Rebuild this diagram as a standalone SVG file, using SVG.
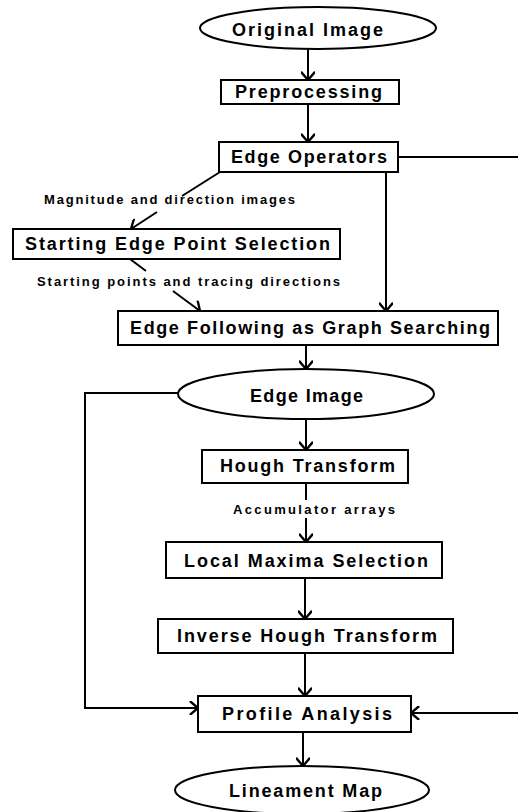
<svg xmlns="http://www.w3.org/2000/svg" width="518" height="812" viewBox="0 0 518 812">
<style>
.n{fill:#fff;stroke:#000;stroke-width:2}
.t{font-family:"Liberation Sans",Arial,sans-serif;font-weight:bold;font-size:18px;fill:#000}
.l{font-family:"Liberation Sans",Arial,sans-serif;font-weight:bold;font-size:13px;fill:#000}
.c{fill:none;stroke:#000;stroke-width:2}
</style>
<defs>
<marker id="a" markerUnits="userSpaceOnUse" markerWidth="14" markerHeight="14" refX="9" refY="6" orient="auto" viewBox="0 0 12 12">
<path d="M2,0 L9,6 L2,12" fill="none" stroke="#000" stroke-width="2"/>
</marker>
</defs>
<rect width="518" height="812" fill="#fff"/>
<g id="connectors">
<line class="c" x1="308" y1="49" x2="308" y2="80" marker-end="url(#a)"/>
<line class="c" x1="308" y1="104" x2="308" y2="142" marker-end="url(#a)"/>
<line class="c" x1="398" y1="157" x2="518" y2="157"/>
<line class="c" x1="386" y1="172" x2="386" y2="311" marker-end="url(#a)"/>
<line class="c" x1="220" y1="172" x2="182" y2="196"/>
<line class="c" x1="157" y1="212" x2="131" y2="229" marker-end="url(#a)"/>
<line class="c" x1="130" y1="259" x2="146" y2="271"/>
<line class="c" x1="173" y1="291" x2="200" y2="311" marker-end="url(#a)"/>
<line class="c" x1="306" y1="345" x2="306" y2="369" marker-end="url(#a)"/>
<line class="c" x1="306" y1="419" x2="306" y2="450" marker-end="url(#a)"/>
<line class="c" x1="306" y1="483" x2="306" y2="500"/>
<line class="c" x1="306" y1="518" x2="306" y2="542" marker-end="url(#a)"/>
<line class="c" x1="305" y1="578" x2="305" y2="619" marker-end="url(#a)"/>
<line class="c" x1="305" y1="653" x2="305" y2="696" marker-end="url(#a)"/>
<line class="c" x1="303" y1="732" x2="303" y2="766" marker-end="url(#a)"/>
<polyline class="c" points="178,393 85,393 85,708 198,708" marker-end="url(#a)"/>
<line class="c" x1="518" y1="713" x2="411" y2="713" marker-end="url(#a)"/>
<text class="l" x="44" y="204" textLength="251" lengthAdjust="spacing">Magnitude and direction images</text>
<text class="l" x="37" y="286" textLength="303" lengthAdjust="spacing">Starting points and tracing directions</text>
<text class="l" x="233" y="514" textLength="162" lengthAdjust="spacing">Accumulator arrays</text>
</g>
<g id="original-image">
<ellipse class="n" cx="318" cy="28" rx="118" ry="21"/>
<text class="t" x="232" y="36" textLength="151" lengthAdjust="spacing">Original  Image</text>
</g>
<g id="preprocessing">
<rect class="n" x="221" y="80" width="178" height="24"/>
<text class="t" x="235" y="98" textLength="147" lengthAdjust="spacing">Preprocessing</text>
</g>
<g id="edge-operators">
<rect class="n" x="219" y="142" width="179" height="30"/>
<text class="t" x="231" y="163" textLength="156" lengthAdjust="spacing">Edge Operators</text>
</g>
<g id="starting-edge-point-selection">
<rect class="n" x="13" y="229" width="327" height="30"/>
<text class="t" x="25" y="250" textLength="305" lengthAdjust="spacing">Starting Edge Point Selection</text>
</g>
<g id="edge-following">
<rect class="n" x="118" y="311" width="380" height="34"/>
<text class="t" x="130" y="334" textLength="360" lengthAdjust="spacing">Edge Following as Graph Searching</text>
</g>
<g id="edge-image">
<ellipse class="n" cx="306" cy="394" rx="128" ry="25"/>
<text class="t" x="250" y="402" textLength="113" lengthAdjust="spacing">Edge Image</text>
</g>
<g id="hough-transform">
<rect class="n" x="202" y="450" width="206" height="33"/>
<text class="t" x="220" y="472" textLength="175" lengthAdjust="spacing">Hough Transform</text>
</g>
<g id="local-maxima-selection">
<rect class="n" x="166" y="542" width="276" height="36"/>
<text class="t" x="184" y="567" textLength="244" lengthAdjust="spacing">Local Maxima Selection</text>
</g>
<g id="inverse-hough-transform">
<rect class="n" x="158" y="619" width="295" height="34"/>
<text class="t" x="177" y="642" textLength="260" lengthAdjust="spacing">Inverse Hough Transform</text>
</g>
<g id="profile-analysis">
<rect class="n" x="198" y="696" width="213" height="36"/>
<text class="t" x="222" y="720" textLength="170" lengthAdjust="spacing">Profile  Analysis</text>
</g>
<g id="lineament-map">
<ellipse class="n" cx="302" cy="790" rx="127" ry="24"/>
<text class="t" x="229" y="797" textLength="153" lengthAdjust="spacing">Lineament Map</text>
</g>
</svg>
